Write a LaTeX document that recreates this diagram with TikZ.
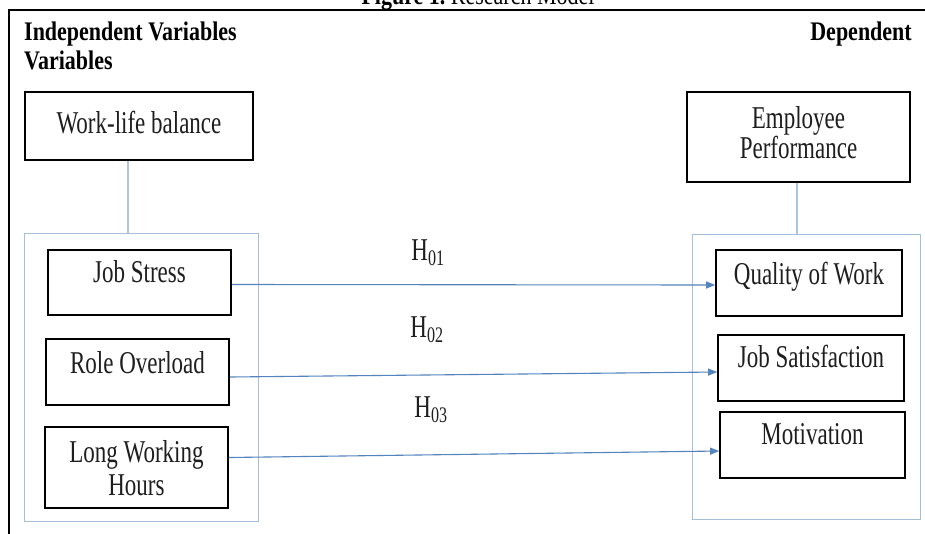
\documentclass[tikz,border=0pt]{standalone}
\usepackage{fontspec}
\setmainfont{Liberation Serif}
\usepackage{graphicx}
\usetikzlibrary{arrows.meta}
\definecolor{arrowblue}{RGB}{84,131,190}
\definecolor{groupblue}{RGB}{165,190,218}
\definecolor{linkblue}{RGB}{175,198,222}
\definecolor{inkgray}{RGB}{30,30,30}
\newcommand{\vs}[1]{\scalebox{1}[1.38]{#1}}
\newcommand{\hs}[1]{\scalebox{1}[1.22]{#1}}
\newcommand{\tline}[2]{\raisebox{#1pt}[0pt][0pt]{\makebox[0pt]{\vs{#2}}}}
\begin{document}
\begin{tikzpicture}[x=1pt,y=-1pt,
  every node/.style={font=\fontsize{23}{26}\selectfont, text=inkgray},
  varbox/.style={draw=black, line width=1.7pt, inner sep=0pt, fill=white},
  groupbox/.style={draw=groupblue, line width=1pt},
  link/.style={draw=linkblue, line width=1.2pt},
  hyp/.style={draw=arrowblue, line width=1.1pt, -{Triangle[length=9pt,width=7pt]}},
  hlabel/.style={inner sep=0pt, anchor=base},
  header/.style={inner sep=0pt, font=\fontsize{22}{24}\selectfont\bfseries, text=black},
]
\useasboundingbox (0,0) rectangle (925,533);
\fill[white] (0,0) rectangle (925,533);

% title (cut off at the top)
\node[header, anchor=base] (title) at (478,4) {\hs{Figure 1.}\mdseries\ \hs{Research Model}};

% outer frame (extends past right and bottom edges)
\draw[black, line width=1.8pt] (945,10) -- (9,10) -- (9,550);

% headers
\node[header, anchor=base west] (indep) at (24,40) {\hs{Independent Variables}};
\node[header, anchor=base west] (indep2) at (24,69) {\hs{Variables}};
\node[header, anchor=base east] (dep) at (912,40) {\hs{Dependent}};

% group boxes
\node[groupbox, minimum width=234pt, minimum height=288pt, inner sep=0pt] (lgroup) at (141,377) {};
\node[groupbox, minimum width=228pt, minimum height=285pt, inner sep=0pt] (rgroup) at (806,376.5) {};

% top boxes
\node[varbox, minimum width=228pt, minimum height=68pt] (wlb) at (139,126) {\tline{-7}{Work-life balance}};
\node[varbox, minimum width=223pt, minimum height=90pt] (ep) at (798.5,137) {\tline{9}{Employee}\tline{-21}{Performance}};

% links from top boxes to groups
\draw[link] (wlb.south -| 128,0) -- (lgroup.north -| 128,0);
\draw[link] (ep.south -| 797,0) -- (rgroup.north -| 797,0);

% independent variables
\node[varbox, minimum width=183pt, minimum height=65pt] (js) at (139.5,282.5) {\tline{0.5}{Job Stress}};
\node[varbox, minimum width=183pt, minimum height=66pt] (ro) at (137.5,372) {\tline{-1}{Role Overload}};
\node[varbox, minimum width=183pt, minimum height=81pt] (lwh) at (136.5,467.5) {\tline{5.5}{Long Working}\tline{-27.5}{Hours}};

% dependent variables
\node[varbox, minimum width=186pt, minimum height=66pt] (qow) at (809,283) {\tline{-1}{Quality of Work}};
\node[varbox, minimum width=186pt, minimum height=66pt] (jsat) at (811,368) {\tline{1}{Job Satisfaction}};
\node[varbox, minimum width=185pt, minimum height=66pt] (mot) at (812.5,445) {\tline{1}{Motivation}};

% hypotheses arrows
\draw[hyp] ([yshift=-2pt]js.east) -- ([yshift=-2pt]qow.west);
\draw[hyp] ([yshift=-5pt]ro.east) -- ([yshift=-4pt]jsat.west);
\draw[hyp] ([yshift=10pt]lwh.east) -- ([yshift=-6pt]mot.west);

% hypothesis labels
\node[hlabel] (h1) at (428,260) {\vs{H\textsubscript{01}}};
\node[hlabel] (h2) at (427,337) {\vs{H\textsubscript{02}}};
\node[hlabel] (h3) at (431,417) {\vs{H\textsubscript{03}}};
\end{tikzpicture}
\end{document}
